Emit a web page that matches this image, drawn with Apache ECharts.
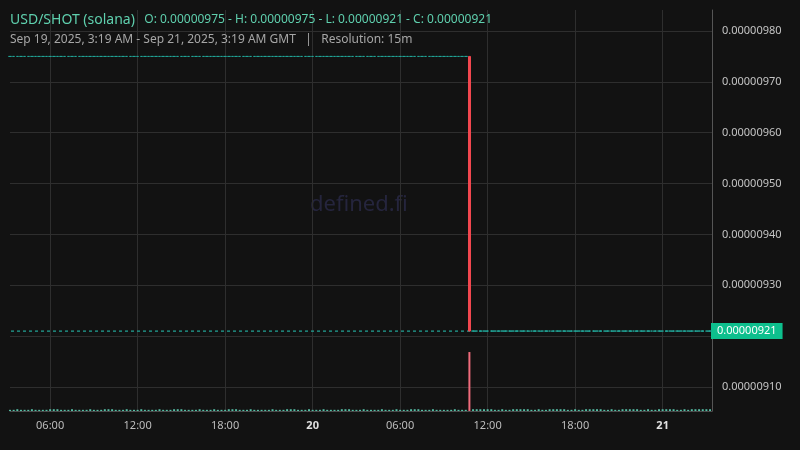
<!DOCTYPE html>
<html>
<head>
<meta charset="utf-8">
<script src="https://cdn.jsdelivr.net/npm/echarts@6/dist/echarts.min.js"></script>
<style>
html,body{margin:0;padding:0;background:#121212;}
#chart{width:800px;height:450px;}
</style>
</head>
<body>
<div id="chart"></div>
<script>
// Prices are in units of 1e-8 USD
const PRICE_UNIT = 1e-8;
const pairName = 'USD/SHOT (solana)';
const ohlcText = 'O: 0.00000975 - H: 0.00000975 - L: 0.00000921 - C: 0.00000921';
const rangeText = 'Sep 19, 2025, 3:19 AM - Sep 21, 2025, 3:19 AM GMT   |   Resolution: 15m';
const viewStart = Date.UTC(2025, 8, 19, 3, 19);
const viewEnd = Date.UTC(2025, 8, 21, 3, 19);
const firstCandle = Date.UTC(2025, 8, 19, 3, 15);
const candleMinutes = 15;

const opens = [
975,975,975,975,975,975,975,975,975,975,
975,975,975,975,975,975,975,975,975,975,
975,975,975,975,975,975,975,975,975,975,
975,975,975,975,975,975,975,975,975,975,
975,975,975,975,975,975,975,975,975,975,
975,975,975,975,975,975,975,975,975,975,
975,975,975,975,975,975,975,975,975,975,
975,975,975,975,975,975,975,975,975,975,
975,975,975,975,975,975,975,975,975,975,
975,975,975,975,975,975,975,975,975,975,
975,975,975,975,975,975,975,975,975,975,
975,975,975,975,975,975,975,975,975,975,
975,975,975,975,975,975,975,
921,921,921,921,921,921,921,921,921,921,
921,921,921,921,921,921,921,921,921,921,
921,921,921,921,921,921,921,921,921,921,
921,921,921,921,921,921,921,921,921,921,
921,921,921,921,921,921,921,921,921,921,
921,921,921,921,921,921,921,921,921,921,
921,921,921,921,921,921
];
const closes = [
975,975,975,975,975,975,975,975,975,975,
975,975,975,975,975,975,975,975,975,975,
975,975,975,975,975,975,975,975,975,975,
975,975,975,975,975,975,975,975,975,975,
975,975,975,975,975,975,975,975,975,975,
975,975,975,975,975,975,975,975,975,975,
975,975,975,975,975,975,975,975,975,975,
975,975,975,975,975,975,975,975,975,975,
975,975,975,975,975,975,975,975,975,975,
975,975,975,975,975,975,975,975,975,975,
975,975,975,975,975,975,975,975,975,975,
975,975,975,975,975,975,975,975,975,975,
975,975,975,975,975,975,
921,
921,921,921,921,921,921,921,921,921,921,
921,921,921,921,921,921,921,921,921,921,
921,921,921,921,921,921,921,921,921,921,
921,921,921,921,921,921,921,921,921,921,
921,921,921,921,921,921,921,921,921,921,
921,921,921,921,921,921,921,921,921,921,
921,921,921,921,921,921
];
const volumes = [
2,2,3,2,2,2,3,2,2,2,
2,3,3,3,2,2,2,3,2,2,
2,2,3,2,2,2,3,3,3,2,
2,2,3,2,2,2,3,2,2,2,
2,3,2,2,2,3,3,3,2,2,
2,2,3,2,2,2,3,2,2,2,
3,3,3,2,2,2,3,2,2,2,
2,2,3,2,2,2,3,3,3,2,
2,2,3,2,2,2,3,2,2,2,
2,3,3,3,2,2,2,3,2,2,
2,2,3,2,2,2,3,2,2,2,
3,3,3,2,2,2,3,2,2,2,
2,2,3,2,2,2,
100,
3,3,3,3,3,3,2,2,3,2,
2,3,3,3,3,3,2,2,3,2,
2,3,3,3,3,3,2,2,3,2,
2,3,3,3,3,3,2,2,3,2,
2,3,3,3,3,3,2,2,3,2,
2,3,3,3,3,3,2,2,3,2,
3,3,3,3,3,3
];

const times = opens.map((_, i) => firstCandle + i * candleMinutes * 60000);
const candleData = opens.map((o, i) => [times[i], o, closes[i], Math.min(o, closes[i]), Math.max(o, closes[i])]);
const volumeData = volumes.map((v, i) => ({
  value: [times[i], v],
  itemStyle: { color: closes[i] < opens[i] ? '#ef6b7b' : '#56bfa6' }
}));
const lastClose = closes[closes.length - 1];

const fmtPrice = v => (v * PRICE_UNIT).toFixed(8);
const pad = n => (n < 10 ? '0' : '') + n;
const TEAL = '#22a395';

const chart = echarts.init(document.getElementById('chart'));
chart.setOption({
  backgroundColor: '#121212',
  animation: false,
  useUTC: true,
  textStyle: { fontFamily: 'Noto Sans' },
  title: [
    {
      left: 10, top: 11, padding: 0,
      text: '{a|' + pairName + '}  {b|' + ohlcText + '}',
      textStyle: {
        fontWeight: 'normal',
        rich: {
          a: { fontSize: 14, color: '#5fd0ae', fontFamily: 'Noto Sans', fontWeight: 'normal' },
          b: { fontSize: 12, color: '#5fd0ae', fontFamily: 'Noto Sans', fontWeight: 'normal' }
        }
      }
    },
    {
      left: 10, top: 34, padding: 0,
      text: rangeText,
      textStyle: { fontSize: 12, color: '#a6a6a6', fontWeight: 'normal', fontFamily: 'Noto Sans' }
    }
  ],
  graphic: [{
    type: 'text', left: 310, top: 194, z: 0,
    style: { text: 'defined.fi', fontSize: 22, fill: '#25253d', fontFamily: 'Noto Sans' }
  }],
  grid: { left: 10, right: 88, top: 10, bottom: 39 },
  xAxis: {
    type: 'time',
    min: viewStart, max: viewEnd,
    splitNumber: 7,
    axisLine: { show: true, lineStyle: { color: '#4a4a4a' } },
    axisTick: { show: false },
    splitLine: { show: true, showMinLine: false, showMaxLine: false, lineStyle: { color: '#2e2e2e' } },
    axisLabel: {
      showMinLabel: false, showMaxLabel: false,
      color: '#bdbdbd', fontSize: 11, margin: 9,
      formatter: function (value) {
        const d = new Date(value);
        if (d.getUTCHours() === 0 && d.getUTCMinutes() === 0) return '{b|' + d.getUTCDate() + '}';
        return pad(d.getUTCHours()) + ':' + pad(d.getUTCMinutes());
      },
      rich: { b: { fontWeight: 'bold', color: '#e0e0e0', fontSize: 11 } }
    }
  },
  yAxis: [
    {
      type: 'value', position: 'right',
      min: 905.28, max: 984.13, splitNumber: 8, scale: true,
      axisLine: { show: true, lineStyle: { color: '#555' } },
      axisTick: { show: false },
      splitLine: { show: true, showMinLine: false, showMaxLine: false, lineStyle: { color: '#2e2e2e' } },
      axisLabel: {
        showMinLabel: false, showMaxLabel: false,
        color: '#c4c4c4', fontSize: 11, margin: 10,
        formatter: v => (Math.abs(v - lastClose) < 6 ? '' : fmtPrice(v))
      }
    },
    {
      type: 'value', show: false, min: 0, max: 680,
      splitLine: { show: false }
    }
  ],
  series: [
    {
      type: 'bar', xAxisIndex: 0, yAxisIndex: 1,
      barWidth: 2, data: volumeData, z: 1
    },
    {
      type: 'line', xAxisIndex: 0, yAxisIndex: 0, z: 2,
      data: [[viewStart, lastClose], [viewEnd, lastClose]],
      symbol: 'none', showSymbol: false, silent: true,
      lineStyle: { color: TEAL, type: [3, 3], width: 1.2 },
      itemStyle: { color: TEAL },
      endLabel: {
        show: true, distance: 0,
        formatter: () => fmtPrice(lastClose),
        backgroundColor: '#0dbf8d', color: '#ffffff',
        fontSize: 11, padding: [3, 6, 2, 6], fontFamily: 'Noto Sans'
      }
    },
    {
      type: 'candlestick', xAxisIndex: 0, yAxisIndex: 0,
      barWidth: 3, data: candleData, z: 3,
      itemStyle: {
        color: TEAL, color0: '#f2474f',
        borderColor: TEAL, borderColor0: '#f2474f', borderWidth: 1
      }
    }
  ]
});
</script>
</body>
</html>
